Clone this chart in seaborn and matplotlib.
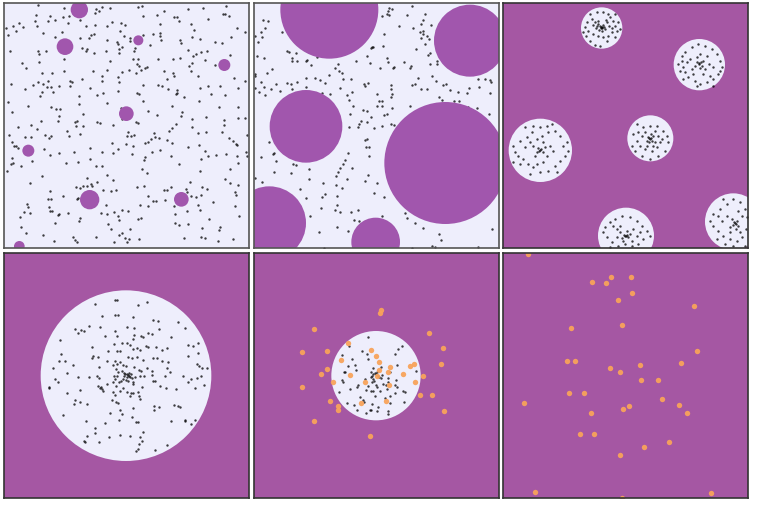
import numpy as np
import pandas as pd
import matplotlib
matplotlib.use("Agg")
import matplotlib.pyplot as plt
import seaborn as sns
from matplotlib.patches import Circle

# colours
light = "#eeeefc"
purple_bg = "#a557a3"
purple_disc = "#a156ad"
orange = "#f8a35b"

# ---- panel 1 : small purple holes in a uniform field ----
p1_circles = [(238, 32, 26), (195, 143, 25), (415, 124, 15), (673, 198, 18),
              (379, 344, 22), (85, 455, 18), (269, 602, 29), (544, 601, 22),
              (58, 742, 16)]
p1_dots = [(115,17),(192,28),(287,30),(298,35),(305,25),(330,28),(413,25),(425,20),(491,36),(565,30),
(608,28),(677,22),(108,48),(150,50),(188,55),(207,50),(284,43),(430,52),(470,47),(522,53),(530,54),
(668,45),(676,44),(688,50),(104,65),(145,66),(164,62),(240,62),(335,68),(362,72),(375,79),(480,75),
(538,67),(574,76),(625,60),(40,80),(58,72),(18,88),(47,97),(68,85),(112,82),(205,73),(257,82),(286,78),
(321,82),(583,92),(711,88),(24,107),(130,101),(185,99),(273,108),(283,105),(361,97),(373,112),(389,117),
(430,107),(460,105),(480,101),(479,111),(541,124),(577,114),(600,120),(644,128),(736,98),(164,113),
(240,117),(268,116),(321,124),(352,128),(355,135),(391,126),(484,124),(542,131),(666,132),(694,115),
(30,156),(115,156),(138,156),(246,148),(262,150),(258,155),(319,155),(356,151),(404,148),(365,143),
(402,157),(449,138),(564,152),(117,166),(282,161),(356,162),(589,165),(603,158),(620,157),(689,168),
(578,172),(520,181),(541,178),(475,181),(400,181),(413,180),(65,191),(117,189),(193,180),(330,186),
(577,192),(568,200),(616,184),(646,199),(79,208),(410,195),(418,200),(435,206),(573,215),(192,217),
(280,215),(320,212),(366,219),(388,214),(408,221),(424,212),(441,205),(493,215),(520,221),(125,223),
(157,221),(305,232),(354,235),(500,241),(523,230),(593,232),(305,245),(210,247),(215,250),(246,240),
(113,248),(128,255),(145,246),(153,265),(735,246),(703,237),(32,255),(74,270),(100,258),(141,264),
(178,262),(210,260),(270,267),(357,250),(428,258),(474,257),(485,260),(504,271),(531,273),(601,266),
(623,262),(659,262),(714,266),(126,278),(121,290),(160,278),(237,290),(355,275),(410,282),(418,284),
(528,284),(531,283),(553,293),(632,285),(675,288),(291,288),(308,283),(597,305),(24,308),(428,306),
(36,338),(84,322),(152,325),(167,330),(180,330),(237,314),(321,311),(362,326),(515,322),(545,340),
(658,325),(715,325),(445,337),(177,350),(250,345),(292,369),(300,372),(340,378),(366,361),(409,368),
(414,371),(470,349),(543,352),(576,360),(617,353),(672,362),(714,358),(735,357),(122,366),(173,366),
(232,367),(228,382),(248,380),(224,369),(54,385),(92,379),(111,390),(27,409),(42,440),(74,415),(93,413),
(134,408),(146,416),(152,412),(200,397),(208,410),(240,404),(385,398),(393,411),(382,410),(403,409),
(463,403),(465,415),(452,419),(507,396),(517,387),(527,374),(576,383),(593,403),(619,400),(666,400),
(672,379),(688,418),(700,425),(708,436),(712,438),(740,408),(35,428),(48,440),(55,447),(133,450),
(178,461),(222,460),(271,447),(305,460),(335,433),(355,450),(379,434),(400,441),(434,433),(443,430),
(476,418),(481,452),(500,423),(517,432),(565,443),(596,437),(615,455),(649,467),(677,466),(712,470),
(737,460),(35,476),(33,495),(38,491),(64,502),(97,486),(150,467),(339,463),(395,464),(436,474),(455,460),
(432,482),(514,470),(603,480),(624,470),(741,470),(713,493),(22,515),(197,493),(233,490),(270,481),
(289,500),(305,500),(427,510),(442,521),(538,495),(601,515),(690,510),(91,552),(125,530),(261,538),
(248,560),(240,567),(290,548),(274,556),(338,543),(320,528),(410,563),(433,561),(513,564),(500,572),
(493,572),(558,570),(569,550),(605,563),(620,570),(675,540),(690,552),(713,557),(151,575),(229,565),
(235,596),(260,560),(276,560),(309,572),(334,575),(347,573),(445,590),(460,607),(469,606),(495,602),
(562,578),(573,592),(589,595),(603,587),(704,578),(707,588),(144,601),(153,600),(190,591),(232,599),
(258,600),(318,617),(342,638),(365,632),(385,636),(420,618),(444,620),(522,622),(595,618),(600,632),
(638,610),(704,620),(80,616),(83,625),(73,640),(89,643),(146,625),(150,637),(155,635),(173,648),
(178,646),(205,643),(239,656),(303,642),(322,645),(354,651),(415,660),(423,657),(524,645),(562,636),
(627,660),(718,650),(59,655),(165,671),(236,667),(323,674),(357,664),(389,691),(524,671),(538,677),
(563,675),(605,687),(658,693),(660,684),(64,684),(78,701),(128,708),(224,722),(218,715),(334,690),
(356,707),(367,702),(376,717),(386,720),(417,719),(553,718),(604,714),(614,716),(653,725),(700,720),
(163,727),(287,715),(343,730),(380,730),(46,740),(231,728)]

# ---- panel 2 : large purple holes ----
p2_circles = [(238, 32, 147), (660, 125, 108), (168, 382, 109), (586, 492, 183),
              (58, 672, 110), (377, 729, 73)]
p2_dots = [(40,63),(54,65),(32,100),(44,86),(35,114),(25,130),(15,112),(95,98),(110,157),(117,160),
(137,163),(127,177),(140,186),(125,185),(168,185),(172,183),(184,197),(202,175),(22,170),(43,178),
(67,210),(52,222),(34,249),(15,267),(43,265),(62,269),(44,287),(26,278),(78,256),(91,276),(112,251),
(124,254),(141,250),(127,269),(168,238),(196,236),(211,243),(226,253),(169,263),(217,281),(240,285),
(238,229),(255,208),(266,215),(277,221),(263,195),(280,240),(304,240),(271,267),(291,288),(297,304),
(307,280),(308,321),(301,345),(297,385),(326,374),(325,385),(333,365),(350,370),(340,332),(350,335),
(341,254),(355,252),(345,260),(318,186),(351,171),(362,148),(370,144),(366,145),(360,192),(391,208),
(411,178),(413,188),(431,205),(402,105),(395,50),(410,44),(418,49),(416,28),(425,30),(413,36),(448,80),
(470,47),(486,20),(488,87),(497,151),(512,76),(520,62),(524,44),(511,100),(512,118),(520,97),(518,104),
(538,120),(530,112),(526,134),(544,79),(541,162),(535,167),(561,187),(562,196),(545,230),(557,245),
(505,237),(486,258),(482,202),(463,190),(480,207),(494,254),(512,271),(530,271),(578,258),(588,256),
(600,273),(624,278),(567,294),(577,304),(613,307),(627,306),(658,268),(652,281),(685,241),(704,241),
(720,243),(722,250),(688,263),(720,282),(716,344),(680,326),(655,323),(541,196),(480,320),(431,379),
(424,374),(427,326),(410,346),(402,348),(388,307),(397,307),(380,322),(395,322),(381,285),(423,257),
(424,270),(427,285),(422,293),(430,208),(395,380),(362,355),(371,387),(352,419),(349,443),(357,444),
(345,424),(356,470),(354,527),(345,545),(306,507),(294,462),(285,483),(278,496),(271,508),(265,518),
(258,530),(257,557),(262,590),(291,541),(275,567),(262,617),(255,632),(270,640),(302,639),(325,632),
(313,663),(326,665),(293,695),(262,683),(220,553),(224,585),(217,595),(213,627),(208,698),(167,597),
(181,651),(177,540),(176,511),(138,497),(130,496),(124,522),(150,570),(72,519),(77,485),(68,466),
(73,462),(56,428),(34,474),(35,549),(15,536),(371,581),(403,594),(381,551),(427,557),(465,643),
(472,658),(494,673),(519,688),(567,705),(574,723),(546,742),(555,743),(683,744),(727,690),(396,650),
(222,747),(485,748),(14,226),(16,230),(398,140)]

# ---- panel 3 : light islands with clustered points ----
p3_circles = [(305, 87, 62), (598, 197, 77), (121, 454, 95), (451, 418, 69),
              (378, 710, 84), (700, 668, 85)]
p3_dots = [(305,85),(300,80),(295,75),(310,78),(290,82),(315,90),(320,70),(285,70),(275,60),(330,55),
(340,65),(345,80),(350,95),(335,100),(325,110),(310,115),(295,110),(280,105),(265,95),(255,85),(260,70),
(270,45),(290,40),(310,38),(325,45),(345,45),(355,70),(360,90),(345,115),(320,125),(300,140),(285,138),
(270,125),(258,110),(250,100),(302,88),(298,92),(306,95),(288,88),(312,84),(295,65),(318,62),(280,78),
(328,82),(336,88),(303,83),(307,88),
(598,195),(592,190),(605,200),(610,185),(585,200),(600,208),(615,210),(590,175),(570,180),(560,190),
(545,185),(535,195),(540,215),(555,220),(565,235),(585,245),(600,255),(620,250),(640,240),(655,225),
(665,205),(660,185),(650,165),(635,150),(615,140),(595,135),(575,145),(555,160),(545,170),(620,170),
(628,195),(640,205),(575,210),(580,225),(610,225),(630,230),(600,165),(550,205),(660,215),(592,260),
(640,260),(548,240),(596,192),(602,190),
(121,452),(115,448),(128,458),(110,460),(135,445),(100,440),(90,430),(80,415),(95,400),(120,385),
(140,380),(155,375),(165,395),(180,410),(200,430),(205,455),(195,470),(180,485),(165,500),(145,515),
(120,520),(100,505),(85,495),(70,480),(55,470),(45,460),(40,440),(60,425),(75,445),(105,470),(140,470),
(150,440),(160,455),(130,490),(110,495),(75,385),(100,380),(145,400),(60,495),(170,520),(90,525),
(40,490),(190,440),(125,410),(110,420),(130,430),(118,455),(124,450),
(450,420),(445,415),(455,425),(440,425),(460,410),(448,430),(452,405),(435,400),(465,395),(475,410),
(480,430),(470,445),(455,455),(435,450),(420,440),(410,425),(415,400),(430,385),(450,380),(470,380),
(490,395),(500,410),(505,430),(495,455),(475,470),(450,480),(425,470),(405,455),(395,440),(398,405),
(410,375),(458,440),(442,440),(425,410),(485,420),(465,430),(447,418),(453,416),
(378,712),(372,708),(385,715),(365,718),(390,705),(370,725),(380,695),(360,700),(350,690),(340,680),
(330,670),(345,660),(365,650),(390,655),(410,665),(425,680),(440,695),(450,710),(430,720),(415,735),
(395,740),(355,740),(335,730),(320,715),(310,700),(315,685),(400,690),(410,710),(350,715),(360,680),
(395,725),(375,735),(420,700),(330,745),(376,710),(382,708),
(705,672),(700,678),(710,665),(695,660),(715,680),(690,685),(708,690),(720,700),(725,715),(710,725),
(690,720),(670,710),(655,695),(640,680),(630,665),(640,645),(660,630),(680,615),(700,600),(720,610),
(735,630),(740,655),(738,690),(725,650),(680,650),(665,665),(690,700),(650,720),(675,735),(700,740),
(735,740),(670,600),(715,635),(655,650),(703,668),(707,675)]

# ---- panel 4 : one big island ----
p4_circles = [(378, 380, 256)]
p4_dots = [(345,152),(350,152),(285,165),(415,168),(440,158),(307,200),(346,197),(353,199),(398,205),
(460,212),(475,216),(477,240),(535,219),(555,236),(226,240),(243,243),(233,252),(253,246),(267,231),
(300,233),(346,245),(381,235),(403,238),(350,262),(402,258),(399,270),(423,261),(430,265),(445,253),
(455,255),(513,265),(180,273),(314,262),(275,293),(325,305),(342,285),(365,283),(381,283),(390,287),
(399,300),(410,297),(420,302),(437,290),(444,294),(467,293),(487,304),(500,298),(565,287),(578,290),
(594,281),(184,316),(176,335),(194,337),(280,320),(277,326),(293,323),(320,335),(352,305),(360,305),
(383,323),(396,328),(410,325),(428,333),(460,326),(470,328),(486,337),(505,338),(563,320),(594,311),
(160,357),(218,347),(298,355),(346,335),(340,348),(350,345),(360,340),(370,348),(378,352),(349,361),
(355,368),(366,365),(373,372),(376,376),(380,374),(384,377),(388,380),(390,385),(395,388),(382,383),
(386,372),(393,375),(372,380),(370,390),(378,392),(384,395),(398,398),(400,405),(405,385),(420,380),
(432,380),(440,357),(402,355),(417,363),(423,367),(457,367),(457,377),(502,358),(510,368),(590,346),
(598,350),(606,357),(620,357),(604,380),(592,386),(574,390),(549,381),(565,400),(612,407),(166,390),
(175,400),(200,373),(234,385),(268,383),(290,380),(296,388),(342,381),(352,380),(345,390),(338,400),
(347,410),(357,400),(362,395),(460,395),(466,397),(495,380),(295,410),(300,416),(305,420),(302,413),
(309,427),(322,405),(340,430),(360,425),(368,418),(382,428),(392,431),(400,432),(413,430),(417,440),
(427,415),(480,410),(497,417),(527,420),(586,418),(147,415),(148,418),(200,432),(240,424),(225,452),
(222,465),(239,460),(260,464),(344,438),(337,452),(349,459),(353,462),(390,440),(419,450),(462,471),
(478,473),(462,484),(523,467),(535,472),(540,473),(190,498),(257,516),(330,492),(360,482),(367,496),
(395,503),(398,478),(408,518),(413,519),(514,517),(556,514),(555,515),(573,525),(584,512),(286,537),
(285,552),(262,560),(296,578),(252,576),(254,580),(315,522),(327,565),(358,512),(359,558),(390,562),
(420,563),(430,549),(425,575),(418,586),(413,600),(408,606),(466,603),(500,589)]

# ---- panel 5 : small island plus orange points ----
p5_circles = [(378, 380, 134)]
p5_dots = [(355,263),(445,299),(455,292),(436,315),(298,291),(276,318),(305,330),(316,348),(294,352),
(283,369),(286,370),(276,393),(279,398),(318,362),(336,307),(352,316),(354,330),(370,357),(362,370),
(365,380),(363,383),(368,390),(370,376),(374,373),(378,375),(383,380),(386,384),(392,388),(395,378),
(380,370),(373,395),(366,398),(377,408),(380,415),(370,425),(362,427),(375,442),(338,453),(343,460),
(330,445),(320,414),(323,407),(312,468),(322,483),(348,492),(360,483),(364,482),(380,485),(367,465),
(385,473),(405,448),(413,485),(413,495),(420,463),(436,433),(461,460),(464,428),(459,425),(436,408),
(437,393),(419,440),(440,413),(411,420),(407,408),(415,399),(413,388),(420,368),(441,347),(497,365),
(392,355),(290,463),(268,430),(390,425),(345,390),(355,410),(300,420),(398,405),(349,424)]
p5_orange = [(394,182),(391,191),(191,240),(537,253),(579,296),(155,308),(231,306),(294,281),(364,304),
(379,320),(273,333),(388,340),(573,345),(481,350),(491,345),(420,354),(413,368),(386,364),(232,361),
(214,375),(458,374),(299,379),(381,381),(519,381),(250,398),(344,399),(494,400),(416,409),(155,414),
(510,439),(545,439),(239,457),(409,457),(332,461),(264,471),(265,483),(582,487),(192,515),(359,561)]

# ---- panel 6 : orange points only ----
p6_orange = [(83,16),(332,83),(392,83),(276,98),(319,102),(395,131),(353,154),(583,171),(212,238),
(366,227),(590,306),(200,336),(225,336),(542,343),(331,357),(421,347),(361,370),(423,393),(474,394),
(207,432),(252,431),(485,449),(73,463),(386,472),(369,479),(536,467),(274,492),(562,492),(241,556),
(281,554),(507,579),(431,593),(359,617),(106,729),(634,733),(365,746)]

sns.set_style("white")
fig = plt.figure(figsize=(7.58, 5.06), dpi=100)
W, H = 758, 506
lefts = [4, 254, 503]
tops = [4, 254]
size = 245

panels = [
    dict(bg=light, disc=purple_disc, circles=p1_circles, dots=p1_dots, orange=[], xlim=(12, 747), holes=True, edge="#555555"),
    dict(bg=light, disc=purple_disc, circles=p2_circles, dots=p2_dots, orange=[], xlim=(12, 747), holes=True, edge="#555555"),
    dict(bg=purple_bg, disc=light, circles=p3_circles, dots=p3_dots, orange=[], xlim=(9, 744), holes=False, edge="#333333"),
    dict(bg=purple_bg, disc=light, circles=p4_circles, dots=p4_dots, orange=[], xlim=(12, 747), holes=False, edge="#333333"),
    dict(bg=purple_bg, disc=light, circles=p5_circles, dots=p5_dots, orange=p5_orange, xlim=(12, 747), holes=False, edge="#333333"),
    dict(bg=purple_bg, disc=light, circles=[], dots=[], orange=p6_orange, xlim=(9, 744), holes=False, edge="#333333"),
]

for i, p in enumerate(panels):
    r, c = divmod(i, 3)
    ax = fig.add_axes([lefts[c] / W, 1 - (tops[r] + size) / H, size / W, size / H])
    ax.set_facecolor(p["bg"])
    for cx, cy, rad in p["circles"]:
        ax.add_patch(Circle((cx, cy), rad, facecolor=p["disc"], edgecolor="none",
                            zorder=3 if p["holes"] else 1))
    if p["dots"]:
        d = pd.DataFrame(p["dots"], columns=["x", "y"])
        sns.scatterplot(data=d, x="x", y="y", ax=ax, s=3, color="black",
                        linewidth=0, alpha=0.75, zorder=2)
    if p["orange"]:
        o = pd.DataFrame(p["orange"], columns=["x", "y"])
        sns.scatterplot(data=o, x="x", y="y", ax=ax, s=15, color=orange,
                        linewidth=0, alpha=0.95, zorder=4)
    ax.set_xlim(*p["xlim"])
    ax.set_ylim(747, 12)
    ax.set_xticks([])
    ax.set_yticks([])
    ax.set_xlabel("")
    ax.set_ylabel("")
    for sp in ax.spines.values():
        sp.set_visible(True)
        sp.set_color(p["edge"])
        sp.set_linewidth(1.2)
        sp.set_zorder(10)

fig.savefig("out.png", dpi=100)
